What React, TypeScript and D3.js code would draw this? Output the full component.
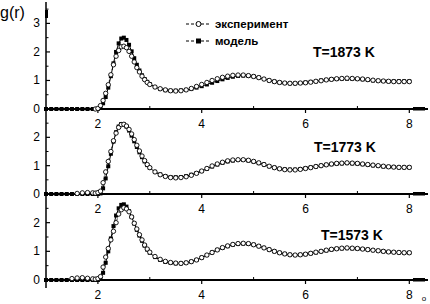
import React from "react";
import * as d3 from "d3";

const rValues = [
  1.0, 1.1, 1.2, 1.3, 1.4, 1.5, 1.6, 1.7, 1.8, 1.9,
  1.95, 2.0, 2.05, 2.1, 2.15, 2.2, 2.25, 2.3, 2.35, 2.4, 2.45, 2.5, 2.55, 2.6, 2.65, 2.7, 2.75, 2.8, 2.85, 2.9, 2.95, 3.0,
  3.1, 3.2, 3.3, 3.4, 3.5, 3.6, 3.7, 3.8, 3.9, 4.0,
  4.1, 4.2, 4.3, 4.4, 4.5, 4.6, 4.7, 4.8, 4.9, 5.0,
  5.1, 5.2, 5.3, 5.4, 5.5, 5.6, 5.7, 5.8, 5.9, 6.0,
  6.1, 6.2, 6.3, 6.4, 6.5, 6.6, 6.7, 6.8, 6.9, 7.0,
  7.1, 7.2, 7.3, 7.4, 7.5, 7.6, 7.7, 7.8, 7.9, 8.0,
];

// null = no measured point at that r
const exp1873 = [
  null, null, null, null, null, null, null, null, null, null,
  0, 0.02, 0.12, 0.3, 0.55, 0.85, 1.2, 1.55, 1.85, 2.05, 2.18, 2.2, 2.15, 2.02, 1.85, 1.65, 1.45, 1.3, 1.15, 1.03, 0.93, 0.86,
  0.77, 0.71, 0.67, 0.64, 0.63, 0.64, 0.67, 0.72, 0.79, 0.86,
  0.93, 1.0, 1.06, 1.11, 1.15, 1.18, 1.19, 1.19, 1.17, 1.14,
  1.1, 1.05, 1.0, 0.96, 0.93, 0.91, 0.9, 0.9, 0.91, 0.92,
  0.94, 0.97, 0.99, 1.02, 1.04, 1.06, 1.07, 1.08, 1.07, 1.06,
  1.05, 1.03, 1.01, 0.99, 0.98, 0.97, 0.96, 0.96, 0.96, 0.96,
];
const model1873 = [
  0, 0, 0, 0, 0, 0, 0, 0, 0, 0,
  0, 0, 0.05, 0.2, 0.42, 0.75, 1.15, 1.6, 2.0, 2.3, 2.47, 2.5, 2.42, 2.25, 2.02, 1.78, 1.55, 1.35, 1.18, 1.05, 0.95, 0.87,
  0.77, 0.7, 0.66, 0.64, 0.64, 0.65, 0.67, 0.7, 0.75, 0.8,
  0.86, 0.92, 0.98, 1.04, 1.09, 1.13, 1.16, 1.17, 1.16, 1.14,
  1.1, 1.05, 1.0, 0.96, 0.93, 0.91, 0.9, 0.9, 0.91, 0.93,
  0.95, 0.97, 1.0, 1.02, 1.04, 1.05, 1.06, 1.06, 1.06, 1.05,
  1.04, 1.02, 1.0, 0.99, 0.98, 0.97, 0.97, 0.97, 0.97, 0.97,
];
const exp1773 = [
  null, null, null, null, null, null, 0.02, 0.04, 0.05, 0.04,
  0.03, 0.05, 0.1, 0.4, 0.78, 1.15, 1.5, 1.88, 2.15, 2.35, 2.45, 2.46, 2.4, 2.28, 2.12, 1.92, 1.72, 1.52, 1.34, 1.18, 1.04, 0.93,
  0.78, 0.68, 0.62, 0.58, 0.57, 0.58, 0.61, 0.66, 0.73, 0.81,
  0.9, 0.99, 1.06, 1.12, 1.17, 1.2, 1.21, 1.21, 1.19, 1.15,
  1.1, 1.04, 0.98, 0.93, 0.89, 0.86, 0.85, 0.85, 0.87, 0.9,
  0.93, 0.97, 1.0, 1.03, 1.06, 1.08, 1.09, 1.1, 1.09, 1.08,
  1.06, 1.04, 1.02, 1.0, 0.98, 0.96, 0.95, 0.94, 0.94, 0.94,
];
const model1773 = [
  0, 0, 0, 0, 0, 0, 0, 0, 0, 0,
  0, 0, 0.02, 0.2, 0.55, 0.98, 1.42, 1.85, 2.18, 2.38, 2.47, 2.46, 2.38, 2.24, 2.06, 1.86, 1.66, 1.47, 1.3, 1.15, 1.02, 0.92,
  0.78, 0.69, 0.63, 0.6, 0.59, 0.6, 0.63, 0.68, 0.74, 0.81,
  0.89, 0.97, 1.04, 1.1, 1.15, 1.18, 1.2, 1.2, 1.18, 1.14,
  1.09, 1.04, 0.98, 0.93, 0.89, 0.87, 0.86, 0.86, 0.88, 0.91,
  0.94, 0.97, 1.0, 1.03, 1.05, 1.07, 1.08, 1.09, 1.08, 1.07,
  1.05, 1.03, 1.01, 0.99, 0.97, 0.96, 0.95, 0.94, 0.94, 0.94,
];
const exp1573 = [
  null, null, null, null, null, 0.05, 0.07, 0.08, 0.06, 0.04,
  0.03, 0.05, 0.12, 0.45, 0.8, 1.1, 1.4, 1.7, 2.0, 2.3, 2.45, 2.52, 2.48, 2.38, 2.2, 1.98, 1.78, 1.58, 1.4, 1.22, 1.08, 0.97,
  0.82, 0.72, 0.65, 0.61, 0.59, 0.58, 0.6, 0.64, 0.7, 0.78,
  0.87, 0.96, 1.05, 1.13, 1.19, 1.24, 1.27, 1.28, 1.27, 1.23,
  1.18, 1.12, 1.06, 1.0, 0.95, 0.91, 0.88, 0.87, 0.88, 0.9,
  0.93, 0.97, 1.0, 1.04, 1.07, 1.09, 1.11, 1.12, 1.11, 1.1,
  1.08, 1.06, 1.04, 1.02, 1.0, 0.98, 0.97, 0.96, 0.95, 0.95,
];
const model1573 = [
  0, 0, 0, 0, 0, 0, 0, 0, 0, 0,
  0, 0, 0.05, 0.25, 0.6, 1.0, 1.45, 1.88, 2.25, 2.5, 2.62, 2.64, 2.56, 2.4, 2.2, 1.97, 1.75, 1.55, 1.37, 1.2, 1.06, 0.95,
  0.8, 0.7, 0.63, 0.6, 0.58, 0.58, 0.6, 0.64, 0.7, 0.78,
  0.87, 0.96, 1.05, 1.12, 1.18, 1.23, 1.26, 1.27, 1.26, 1.23,
  1.18, 1.12, 1.06, 1.0, 0.95, 0.91, 0.88, 0.87, 0.88, 0.9,
  0.93, 0.96, 1.0, 1.03, 1.06, 1.09, 1.1, 1.11, 1.1, 1.09,
  1.08, 1.06, 1.04, 1.02, 1.0, 0.98, 0.97, 0.96, 0.95, 0.95,
];

const panelLabels = ["T=1873 K", "T=1773 K", "T=1573 K"];
const xTicks = [2, 4, 6, 8];
const xMinorTicks = [3, 5, 7];
const legendLabels = ["эксперимент", "модель"];

const W = 430;
const H = 304;
const FONT = "'Liberation Sans', Arial, sans-serif";

const x = d3.scaleLinear().domain([1, 8.36]).range([46, 428]);

const panels = [
  { exp: exp1873, model: model1873, y: d3.scaleLinear().domain([0, 3.75]).range([109, 2]), labelPos: [313, 57], ticks: [0, 1, 2, 3] },
  { exp: exp1773, model: model1773, y: d3.scaleLinear().domain([0, 3]).range([194, 109]), labelPos: [314, 152], ticks: [0, 1, 2] },
  { exp: exp1573, model: model1573, y: d3.scaleLinear().domain([0, 3]).range([280, 194]), labelPos: [321, 240], ticks: [0, 1, 2] },
];

export default function App() {
  return (
    <div style={{ position: "fixed", left: 0, top: 0 }}>
      <svg width={W} height={H} style={{ display: "block", background: "#fff" }} fontFamily={FONT}>
        <line x1={46} x2={46} y1={2} y2={288} stroke="#000" strokeWidth={1.5} />
        <rect x={45} y={10} width={3} height={8} fill="#000" />
        <text x={0} y={18} fontSize={16} fill="#000">g(r)</text>

        {panels.map((p, pi) => {
          const y0 = p.y(0);
          const lineGen = d3
            .line<number | null>()
            .defined((v) => v !== null)
            .x((_, i) => x(rValues[i]))
            .y((v) => p.y(v as number));
          const halfTicks = d3.range(0.5, p.y.domain()[1], 1);
          return (
            <g key={pi}>
              {p.ticks.map((t) => (
                <g key={t}>
                  <line x1={46} x2={50} y1={p.y(t)} y2={p.y(t)} stroke="#000" strokeWidth={1.2} />
                  <text x={40} y={p.y(t) + 4} fontSize={12} textAnchor="end" fill="#000">{t}</text>
                </g>
              ))}
              {halfTicks.map((t) => (
                <line key={t} x1={46} x2={48.5} y1={p.y(t)} y2={p.y(t)} stroke="#000" strokeWidth={1} />
              ))}
              <line x1={46} x2={428} y1={y0} y2={y0} stroke="#000" strokeWidth={2} />
              <rect x={413} y={y0 - 2} width={12} height={3.5} fill="#000" />
              {xTicks.map((t) => (
                <g key={t}>
                  <line x1={x(t)} x2={x(t)} y1={y0} y2={y0 + 4} stroke="#000" strokeWidth={1.2} />
                  <text x={x(t)} y={y0 + 19} fontSize={12} textAnchor="middle" fill="#000">{t}</text>
                </g>
              ))}
              {xMinorTicks.map((t) => (
                <line key={t} x1={x(t)} x2={x(t)} y1={y0} y2={y0 - 3} stroke="#000" strokeWidth={1} />
              ))}
              <path d={lineGen(p.model) || ""} fill="none" stroke="#000" strokeWidth={1} />
              {p.model.map((v, i) => (
                <rect key={i} x={x(rValues[i]) - 2} y={p.y(v) - 2} width={4} height={4} fill="#000" />
              ))}
              <path d={lineGen(p.exp) || ""} fill="none" stroke="#000" strokeWidth={0.8} strokeDasharray="2,2" />
              {p.exp.map((v, i) =>
                v === null ? null : (
                  <circle key={i} cx={x(rValues[i])} cy={p.y(v)} r={2.2} fill="#fff" stroke="#000" strokeWidth={0.9} />
                )
              )}
              <text x={p.labelPos[0]} y={p.labelPos[1]} fontSize={14} fontWeight="bold" fill="#000">{panelLabels[pi]}</text>
            </g>
          );
        })}

        <g>
          <line x1={186} x2={211} y1={24} y2={24} stroke="#000" strokeWidth={1} strokeDasharray="3,2" />
          <circle cx={198.5} cy={24} r={2.5} fill="#fff" stroke="#000" strokeWidth={1} />
          <text x={215} y={28} fontSize={11.5} fontWeight="bold" fill="#000">{legendLabels[0]}</text>
          <line x1={186} x2={211} y1={41} y2={41} stroke="#000" strokeWidth={1} strokeDasharray="3,2" />
          <rect x={196} y={38.5} width={5} height={5} fill="#000" />
          <text x={215} y={45} fontSize={11.5} fontWeight="bold" fill="#000">{legendLabels[1]}</text>
        </g>
        <text x={424} y={301} fontSize={8} textAnchor="middle" fill="#000">o</text>
      </svg>
    </div>
  );
}
